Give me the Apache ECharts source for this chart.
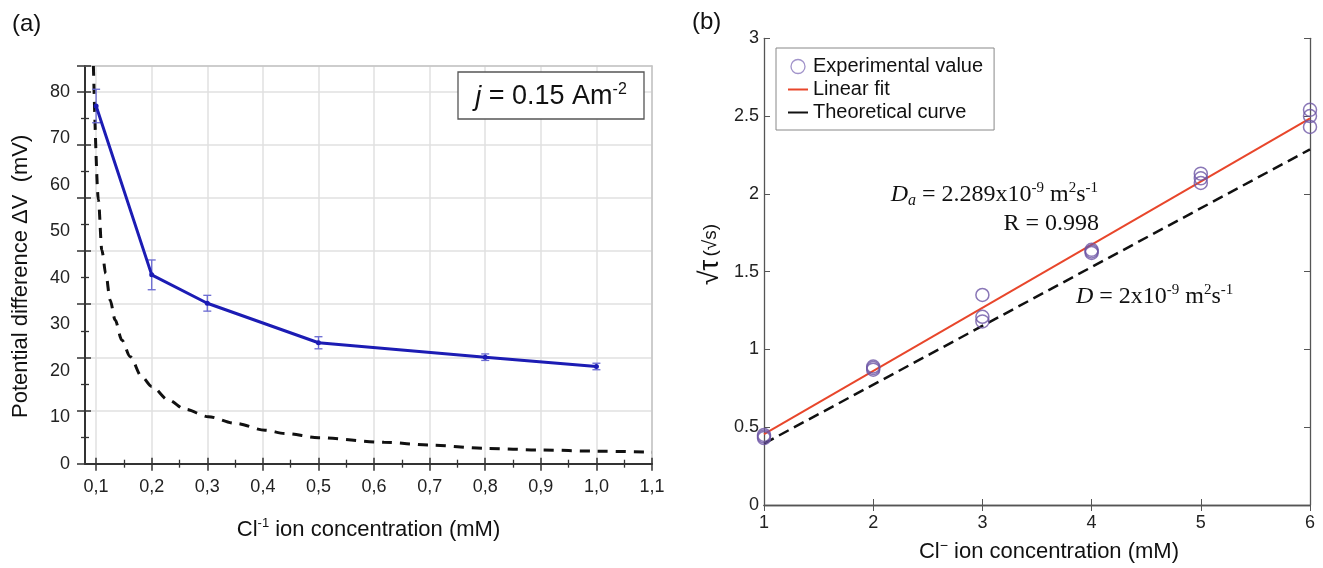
<!DOCTYPE html>
<html>
<head>
<meta charset="utf-8">
<script src="https://cdn.jsdelivr.net/npm/echarts@6/dist/echarts.min.js"></script>
<style>
html,body{margin:0;padding:0;background:#fff;}
#c{width:1323px;height:568px;}
</style>
</head>
<body>
<div id="c"></div>
<script>
// ---------- Panel (a) data ----------
const concA = [0.1, 0.2, 0.3, 0.5, 0.8, 1.0];
const dvA = [76.9, 40.6, 34.5, 26.0, 22.9, 20.9];
const errA = [3.6, 3.2, 1.7, 1.3, 0.7, 0.7];
const theoAX = [0.0951, 0.1041, 0.1103, 0.1174, 0.1252, 0.1342, 0.1462, 0.1612, 0.1822, 0.2002, 0.230, 0.260, 0.302, 0.350, 0.404, 0.440, 0.5, 0.618, 0.7, 0.8, 0.9, 1.0, 1.1];
const theoAY = [85.5, 56.7, 45.9, 40.9, 35.2, 30.9, 26.6, 23.0, 18.7, 16.6, 13.7, 11.7, 10.1, 8.7, 7.2, 6.5, 5.6, 4.6, 4.0, 3.3, 2.95, 2.7, 2.45];
const xTicksA = [0.1, 0.2, 0.3, 0.4, 0.5, 0.6, 0.7, 0.8, 0.9, 1.0, 1.1];
const xMinorA = [0.15, 0.25, 0.35, 0.45, 0.55, 0.65, 0.75, 0.85, 0.95, 1.05];
const yTicksA = [0, 10, 20, 30, 40, 50, 60, 70, 80];

// ---------- Panel (b) data ----------
const concB = [1, 1, 1, 2, 2, 2, 3, 3, 3, 4, 4, 4, 5, 5, 5, 6, 6, 6];
const sqrtTauB = [0.43, 0.44, 0.45, 0.89, 0.87, 0.88, 1.35, 1.21, 1.18, 1.62, 1.63, 1.64, 2.13, 2.10, 2.07, 2.54, 2.50, 2.43];
const fitX = [1, 6];
const fitY = [0.455, 2.485];
const theoBX = [1, 6];
const theoBY = [0.395, 2.286];

const zip = (a, b) => a.map((v, i) => [v, b[i]]);
const SANS = 'Liberation Sans, Arial, sans-serif';
const SERIF = 'Liberation Serif, Times New Roman, serif';
const AX = '#333';
const GRID = '#e0e0e0';

const supStyle = (fs) => ({ fontSize: fs, verticalAlign: 'top', lineHeight: fs, fontFamily: SANS, color: '#111' });

const chart = echarts.init(document.getElementById('c'), null, { renderer: 'canvas' });

const option = {
  animation: false,
  backgroundColor: '#fff',
  grid: [
    { left: 85, top: 66, width: 567, height: 397.7 },
    { left: 764, top: 38.3, width: 546, height: 467.7 }
  ],
  xAxis: [
    { // 0: panel a main
      gridIndex: 0, type: 'value', min: 0.08, max: 1.1, position: 'bottom',
      axisLine: { lineStyle: { color: AX, width: 2 } },
      axisTick: { customValues: xTicksA, length: 7, lineStyle: { color: AX, width: 1.5 } },
      axisLabel: { customValues: xTicksA, formatter: v => v.toFixed(1).replace('.', ','), fontSize: 18, color: '#222', margin: 14, fontFamily: SANS },
      splitLine: { show: true, lineStyle: { color: GRID, width: 1.5 } },
      name: '{n|Cl}{s|-1}{n| ion concentration (mM)}',
      nameLocation: 'middle', nameGap: 53,
      nameTextStyle: { rich: { n: { fontSize: 22, fontFamily: SANS, color: '#111', lineHeight: 26 }, s: supStyle(13) } }
    },
    { // 1: panel a major ticks inside
      gridIndex: 0, type: 'value', min: 0.08, max: 1.1, position: 'bottom',
      axisLine: { show: false },
      axisTick: { customValues: xTicksA, inside: true, length: 6, lineStyle: { color: AX, width: 1.5 } },
      axisLabel: { show: false }, splitLine: { show: false }
    },
    { // 2: panel a minor ticks out
      gridIndex: 0, type: 'value', min: 0.08, max: 1.1, position: 'bottom',
      axisLine: { show: false },
      axisTick: { customValues: xMinorA, length: 4, lineStyle: { color: AX, width: 1.3 } },
      axisLabel: { show: false }, splitLine: { show: false }
    },
    { // 3: panel a minor ticks in
      gridIndex: 0, type: 'value', min: 0.08, max: 1.1, position: 'bottom',
      axisLine: { show: false },
      axisTick: { customValues: xMinorA, inside: true, length: 4, lineStyle: { color: AX, width: 1.3 } },
      axisLabel: { show: false }, splitLine: { show: false }
    },
    { // 4: panel a top border
      gridIndex: 0, type: 'value', min: 0.08, max: 1.1, position: 'top',
      axisLine: { lineStyle: { color: '#c4c4c4', width: 1.5 } },
      axisTick: { show: false }, axisLabel: { show: false }, splitLine: { show: false }
    },
    { // 5: panel b bottom
      gridIndex: 1, type: 'value', min: 1, max: 6, interval: 1, position: 'bottom',
      axisLine: { lineStyle: { color: '#555', width: 1.3 } },
      axisTick: { inside: true, length: 6, lineStyle: { color: '#555' } },
      axisLabel: { fontSize: 18, color: '#222', margin: 9, fontFamily: SANS },
      splitLine: { show: false },
      name: '{n|Cl}{s|−}{n| ion concentration (mM)}',
      nameLocation: 'middle', nameGap: 34,
      nameTextStyle: { padding: [0, 0, 0, 24], rich: { n: { fontSize: 22, fontFamily: SANS, color: '#111', lineHeight: 26 }, s: supStyle(14) } }
    },
    { // 6: panel b top mirror
      gridIndex: 1, type: 'value', min: 1, max: 6, interval: 1, position: 'top',
      axisLine: { lineStyle: { color: '#555', width: 1.3 } },
      axisTick: { inside: true, length: 6, lineStyle: { color: '#555' } },
      axisLabel: { show: false }, splitLine: { show: false }
    }
  ],
  yAxis: [
    { // 0: panel a data axis
      gridIndex: 0, type: 'value', min: 0, max: 85.5, position: 'left',
      axisLine: { lineStyle: { color: AX, width: 2 } },
      axisTick: { show: false },
      axisLabel: { customValues: yTicksA, fontSize: 18, color: '#222', margin: 15, fontFamily: SANS },
      splitLine: { show: false },
      name: 'Potential difference ΔV  (mV)',
      nameLocation: 'middle', nameGap: 53,
      nameTextStyle: { fontSize: 22, fontFamily: SANS, color: '#111', padding: [0, 23, 0, 0] }
    },
    { // 1: panel a grid axis (outer ticks + grid lines)
      gridIndex: 0, type: 'value', min: 0, max: 7.48125, interval: 1, position: 'left',
      axisLine: { show: false },
      axisTick: { length: 8, lineStyle: { color: AX, width: 1.5 } },
      minorTick: { show: true, splitNumber: 2, length: 4, lineStyle: { color: AX, width: 1.3 } },
      axisLabel: { show: false },
      splitLine: { show: true, lineStyle: { color: GRID, width: 1.5 } }
    },
    { // 2: panel a inner ticks
      gridIndex: 0, type: 'value', min: 0, max: 7.48125, interval: 1, position: 'left',
      axisLine: { show: false },
      axisTick: { inside: true, length: 6, lineStyle: { color: AX, width: 1.5 } },
      minorTick: { show: true, splitNumber: 2, length: 4, lineStyle: { color: AX, width: 1.3 } },
      axisLabel: { show: false }, splitLine: { show: false }
    },
    { // 3: panel a right border
      gridIndex: 0, type: 'value', min: 0, max: 85.5, position: 'right',
      axisLine: { lineStyle: { color: '#c4c4c4', width: 1.5 } },
      axisTick: { show: false }, axisLabel: { show: false }, splitLine: { show: false }
    },
    { // 4: panel b left
      gridIndex: 1, type: 'value', min: 0, max: 3, interval: 0.5, position: 'left',
      axisLine: { lineStyle: { color: '#555', width: 1.3 } },
      axisTick: { inside: true, length: 6, lineStyle: { color: '#555' } },
      axisLabel: { fontSize: 18, color: '#222', margin: 5, fontFamily: SANS },
      splitLine: { show: false },
      name: '{t|√τ} {s|(√s)}',
      nameLocation: 'middle', nameGap: 38,
      nameTextStyle: { padding: [0, 0, 0, 34], rich: { t: { fontSize: 27, fontFamily: SANS, color: '#111', lineHeight: 30 }, s: { fontSize: 19, fontFamily: SANS, color: '#111', lineHeight: 30 } } }
    },
    { // 5: panel b right mirror
      gridIndex: 1, type: 'value', min: 0, max: 3, interval: 0.5, position: 'right',
      axisLine: { lineStyle: { color: '#555', width: 1.3 } },
      axisTick: { inside: true, length: 6, lineStyle: { color: '#555' } },
      axisLabel: { show: false }, splitLine: { show: false }
    }
  ],
  legend: {
    left: 776, top: 48, orient: 'vertical',
    padding: [7, 11, 6, 11], itemGap: 0, itemWidth: 20, itemHeight: 14,
    borderColor: '#888', borderWidth: 1, selectedMode: false,
    textStyle: { fontSize: 20, lineHeight: 23, color: '#111', fontFamily: SANS },
    data: [
      { name: 'Experimental value', itemStyle: { color: 'rgba(0,0,0,0)', borderColor: '#8a78bd', borderWidth: 1.3 } },
      { name: 'Linear fit', itemStyle: { color: 'rgba(0,0,0,0)', borderWidth: 0, opacity: 0 } },
      { name: 'Theoretical curve', itemStyle: { color: 'rgba(0,0,0,0)', borderWidth: 0, opacity: 0 }, lineStyle: { type: 'solid' } }
    ]
  },
  series: [
    {
      name: 'Theory (a)', type: 'line', xAxisIndex: 0, yAxisIndex: 0,
      data: zip(theoAX, theoAY), symbol: 'none', smooth: 0.3, smoothMonotone: 'x',
      lineStyle: { color: '#111', width: 3, type: [10, 8] }, z: 3
    },
    {
      name: 'Errors (a)', type: 'custom', xAxisIndex: 0, yAxisIndex: 0,
      data: concA.map((x, i) => [x, dvA[i], errA[i]]),
      encode: { x: 0, y: 1 },
      renderItem: (params, api) => {
        const x = api.value(0), y = api.value(1), e = api.value(2);
        const t = api.coord([x, y + e]), b = api.coord([x, y - e]);
        const w = 4, st = { stroke: '#6a6ad2', lineWidth: 1.3 };
        return { type: 'group', children: [
          { type: 'line', shape: { x1: t[0], y1: t[1], x2: b[0], y2: b[1] }, style: st },
          { type: 'line', shape: { x1: t[0] - w, y1: t[1], x2: t[0] + w, y2: t[1] }, style: st },
          { type: 'line', shape: { x1: b[0] - w, y1: b[1], x2: b[0] + w, y2: b[1] }, style: st }
        ] };
      }, z: 4
    },
    {
      name: 'Measured (a)', type: 'line', xAxisIndex: 0, yAxisIndex: 0,
      data: zip(concA, dvA), symbol: 'circle', symbolSize: 5,
      itemStyle: { color: '#1c1cb4' }, lineStyle: { color: '#1c1cb4', width: 3 }, z: 5
    },
    {
      name: 'Theoretical curve', type: 'line', xAxisIndex: 5, yAxisIndex: 4,
      data: zip(theoBX, theoBY), symbol: 'none',
      itemStyle: { color: '#111' },
      lineStyle: { color: '#111', width: 2.5, type: [11, 6] }, z: 3
    },
    {
      name: 'Linear fit', type: 'line', xAxisIndex: 5, yAxisIndex: 4,
      data: zip(fitX, fitY), symbol: 'none',
      itemStyle: { color: '#e8462b' },
      lineStyle: { color: '#e8462b', width: 2 }, z: 4
    },
    {
      name: 'Experimental value', type: 'scatter', xAxisIndex: 5, yAxisIndex: 4,
      data: zip(concB, sqrtTauB), symbol: 'circle', symbolSize: 13,
      itemStyle: { color: 'rgba(0,0,0,0)', borderColor: '#6d55a5', borderWidth: 1.5 }, z: 5
    }
  ],
  graphic: [
    { type: 'text', x: 12, y: 12, style: { text: '(a)', font: '24px ' + SANS, fill: '#111' } },
    { type: 'text', x: 692, y: 10, style: { text: '(b)', font: '24px ' + SANS, fill: '#111' } },
    { type: 'rect', shape: { x: 458, y: 72, width: 186, height: 47 }, style: { fill: '#fff', stroke: '#555', lineWidth: 1.3 }, z: 10 },
    { type: 'text', x: 551, y: 97, z: 11,
      style: { text: '{i|j} = 0.15 Am{s|-2}', textAlign: 'center', textVerticalAlign: 'middle', align: 'center', verticalAlign: 'middle',
        font: '27px ' + SANS, fill: '#111',
        rich: { i: { fontStyle: 'italic', fontSize: 27, fontFamily: SANS, lineHeight: 30 }, s: supStyle(16) } } },
    { type: 'text', x: 1098, y: 195, z: 11,
      style: { text: '{d|D}{b|a} = 2.289x10{s|-9} m{s|2}s{s|-1}', textAlign: 'right', textVerticalAlign: 'middle', align: 'right', verticalAlign: 'middle',
        font: '24px ' + SERIF, fill: '#111',
        rich: { d: { fontStyle: 'italic', fontSize: 24, fontFamily: SERIF, lineHeight: 28 },
                b: { fontStyle: 'italic', fontSize: 16, fontFamily: SERIF, verticalAlign: 'bottom', lineHeight: 16 },
                s: { fontSize: 15, fontFamily: SERIF, verticalAlign: 'top', lineHeight: 15 } } } },
    { type: 'text', x: 1099, y: 224, z: 11,
      style: { text: 'R = 0.998', textAlign: 'right', textVerticalAlign: 'middle', align: 'right', verticalAlign: 'middle',
        font: '24px ' + SERIF, fill: '#111' } },
    { type: 'text', x: 1076, y: 297, z: 11,
      style: { text: '{d|D} = 2x10{s|-9} m{s|2}s{s|-1}', textAlign: 'left', textVerticalAlign: 'middle', align: 'left', verticalAlign: 'middle',
        font: '24px ' + SERIF, fill: '#111',
        rich: { d: { fontStyle: 'italic', fontSize: 24, fontFamily: SERIF, lineHeight: 28 },
                s: { fontSize: 15, fontFamily: SERIF, verticalAlign: 'top', lineHeight: 15 } } } }
  ]
};
chart.setOption(option);
</script>
</body>
</html>
